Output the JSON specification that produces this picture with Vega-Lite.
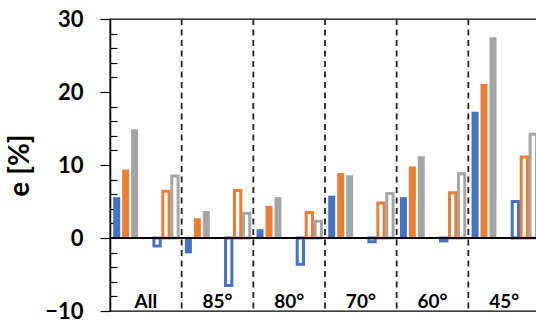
{
  "$schema": "https://vega.github.io/schema/vega-lite/v6.json",
  "width": 430,
  "height": 292,
  "autosize": {"type": "none"},
  "padding": {"left": 110, "top": 19, "right": 0, "bottom": 14},
  "config": {"view": {"stroke": "black", "strokeWidth": 1.3}, "font": "Lato"},
  "datasets": {
    "bars": [
      {"group": "All", "case": "I", "series": "S1", "value": 5.6},
      {"group": "All", "case": "I", "series": "S2", "value": 9.4},
      {"group": "All", "case": "I", "series": "S3", "value": 14.9},
      {"group": "All", "case": "II", "series": "S1", "value": -1.1},
      {"group": "All", "case": "II", "series": "S2", "value": 6.4},
      {"group": "All", "case": "II", "series": "S3", "value": 8.5},
      {"group": "85°", "case": "I", "series": "S1", "value": -2.1},
      {"group": "85°", "case": "I", "series": "S2", "value": 2.7},
      {"group": "85°", "case": "I", "series": "S3", "value": 3.7},
      {"group": "85°", "case": "II", "series": "S1", "value": -6.5},
      {"group": "85°", "case": "II", "series": "S2", "value": 6.5},
      {"group": "85°", "case": "II", "series": "S3", "value": 3.4},
      {"group": "80°", "case": "I", "series": "S1", "value": 1.2},
      {"group": "80°", "case": "I", "series": "S2", "value": 4.4},
      {"group": "80°", "case": "I", "series": "S3", "value": 5.6},
      {"group": "80°", "case": "II", "series": "S1", "value": -3.6},
      {"group": "80°", "case": "II", "series": "S2", "value": 3.5},
      {"group": "80°", "case": "II", "series": "S3", "value": 2.3},
      {"group": "70°", "case": "I", "series": "S1", "value": 5.8},
      {"group": "70°", "case": "I", "series": "S2", "value": 8.9},
      {"group": "70°", "case": "I", "series": "S3", "value": 8.6},
      {"group": "70°", "case": "II", "series": "S1", "value": -0.5},
      {"group": "70°", "case": "II", "series": "S2", "value": 4.8},
      {"group": "70°", "case": "II", "series": "S3", "value": 6.1},
      {"group": "60°", "case": "I", "series": "S1", "value": 5.6},
      {"group": "60°", "case": "I", "series": "S2", "value": 9.8},
      {"group": "60°", "case": "I", "series": "S3", "value": 11.2},
      {"group": "60°", "case": "II", "series": "S1", "value": -0.4},
      {"group": "60°", "case": "II", "series": "S2", "value": 6.2},
      {"group": "60°", "case": "II", "series": "S3", "value": 8.8},
      {"group": "45°", "case": "I", "series": "S1", "value": 17.3},
      {"group": "45°", "case": "I", "series": "S2", "value": 21.1},
      {"group": "45°", "case": "I", "series": "S3", "value": 27.5},
      {"group": "45°", "case": "II", "series": "S1", "value": 5.0},
      {"group": "45°", "case": "II", "series": "S2", "value": 11.1},
      {"group": "45°", "case": "II", "series": "S3", "value": 14.2}
    ],
    "groups": [
      {"group": "All"}, {"group": "85°"}, {"group": "80°"},
      {"group": "70°"}, {"group": "60°"}, {"group": "45°"}
    ]
  },
  "layer": [
    {
      "data": {"name": "groups"},
      "transform": [{"filter": "datum.group !== 'All'"}],
      "mark": {"type": "rule", "strokeDash": [6, 4.5], "color": "#222222", "strokeWidth": 1.8},
      "encoding": {
        "x": {"field": "group", "type": "nominal", "bandPosition": 0, "axis": null,
              "scale": {"domain": ["All", "85°", "80°", "70°", "60°", "45°"], "paddingInner": 0, "paddingOuter": 0}}
      }
    },
    {
      "data": {"name": "bars"},
      "transform": [{"filter": "datum.case === 'I'"}],
      "mark": {"type": "bar", "width": 7},
      "encoding": {
        "x": {"field": "group", "type": "nominal", "axis": null,
              "scale": {"domain": ["All", "85°", "80°", "70°", "60°", "45°"], "paddingInner": 0, "paddingOuter": 0}},
        "xOffset": {"field": "series", "type": "nominal",
                    "scale": {"domain": ["S1", "p1", "S2", "p2", "S3", "p3", "p4", "p5", "p6", "p7", "p8", "p9", "p10", "p11"], "paddingInner": 0, "paddingOuter": 1.9}},
        "y": {"field": "value", "type": "quantitative",
              "scale": {"domain": [-10, 30], "nice": false, "zero": false},
              "axis": {"orient": "left", "values": [-8, -6, -4, -2, 2, 4, 6, 8, 12, 14, 16, 18, 22, 24, 26, 28],
                       "tickSize": -7, "tickColor": "black", "tickWidth": 1.2, "labels": false,
                       "domain": true, "domainColor": "black", "domainWidth": 1.5, "title": null, "grid": false}},
        "color": {"field": "series", "type": "nominal", "legend": null,
                  "scale": {"domain": ["S1", "S2", "S3"], "range": ["#4472C4", "#ED7D31", "#A5A5A5"]}}
      }
    },
    {
      "data": {"name": "bars"},
      "transform": [{"filter": "datum.case === 'II'"}],
      "mark": {"type": "bar", "width": 6.3, "fill": "white", "fillOpacity": 1},
      "encoding": {
        "x": {"field": "group", "type": "nominal", "axis": null,
              "scale": {"domain": ["All", "85°", "80°", "70°", "60°", "45°"], "paddingInner": 0, "paddingOuter": 0}},
        "xOffset": {"field": "series", "type": "nominal",
                    "scale": {"domain": ["q1", "q2", "q3", "q4", "q5", "q6", "q7", "q8", "q9", "S1", "q10", "S2", "q11", "S3"], "paddingInner": 0, "paddingOuter": 1.9}},
        "y": {"field": "value", "type": "quantitative", "axis": null},
        "stroke": {"field": "series", "type": "nominal", "legend": null,
                   "scale": {"domain": ["S1", "S2", "S3"], "range": ["#4472C4", "#ED7D31", "#A5A5A5"]}},
        "strokeWidth": {"value": 3}
      }
    },
    {
      "data": {"name": "groups"},
      "mark": {"type": "text", "fontSize": 19, "fontWeight": "bold", "color": "black", "baseline": "alphabetic"},
      "encoding": {
        "x": {"field": "group", "type": "nominal", "axis": null,
              "scale": {"domain": ["All", "85°", "80°", "70°", "60°", "45°"], "paddingInner": 0, "paddingOuter": 0}},
        "y": {"datum": -9.6, "type": "quantitative", "axis": null},
        "text": {"field": "group"}
      }
    },
    {
      "data": {"name": "groups"},
      "mark": {"type": "rule", "color": "black", "strokeWidth": 2},
      "encoding": {
        "y": {"datum": 0, "type": "quantitative",
              "axis": {"orient": "left", "values": [-10, 0, 10, 20, 30], "tickSize": 10, "tickColor": "black", "tickWidth": 1.2,
                       "labelFontSize": 22, "labelFontWeight": "bold", "labelColor": "black", "labelPadding": 17,
                       "domain": false, "grid": false, "title": "e [%]", "titleFontSize": 28, "titleFontWeight": "bold",
                       "titleColor": "black", "titlePadding": 10}}
      }
    }
  ],
  "resolve": {"axis": {"y": "independent"}, "scale": {"xOffset": "independent"}}
}
